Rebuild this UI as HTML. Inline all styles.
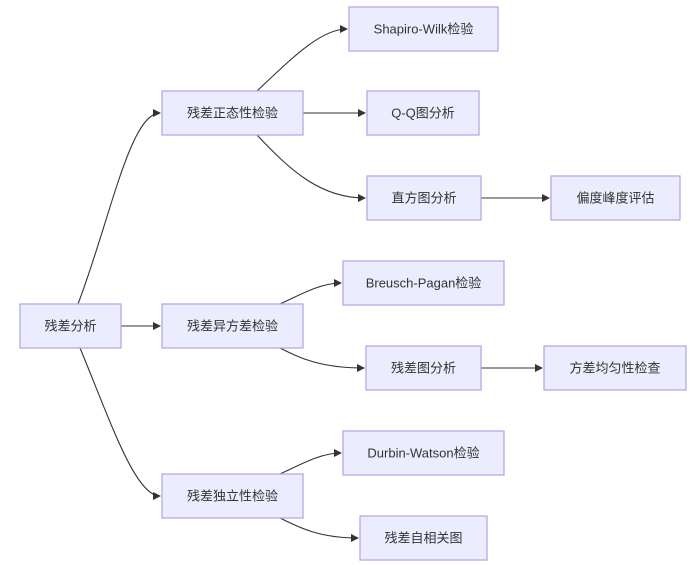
<!DOCTYPE html>
<html><head><meta charset="utf-8"><style>
html,body{margin:0;padding:0;background:#fff;}
svg{display:block;}
text{font-family:"Liberation Sans","Noto Sans CJK SC",sans-serif;font-size:13px;fill:#333;text-anchor:middle;dominant-baseline:central;}
rect{fill:#ECECFF;stroke:#b8a8e4;stroke-width:1.3;}
path{fill:none;stroke:#333;stroke-width:1.1;}
</style></head><body>
<svg width="700" height="565" viewBox="0 0 700 565">
<defs><marker id="a" markerWidth="8" markerHeight="8" refX="7" refY="4" orient="auto" markerUnits="userSpaceOnUse"><path d="M0,0 L8,4 L0,8 z" style="fill:#333;stroke:none"/></marker></defs>
<g marker-end="url(#a)">
<path d="M78,304 C110,220 130,113 160,113"/>
<path d="M121,326 L160,326"/>
<path d="M80,348 C110,420 135,496 160,496"/>
<path d="M257,91 C290,60 320,29 347,29"/>
<path d="M303,113 L365,113"/>
<path d="M257,135 C290,170 320,198 365,198"/>
<path d="M481,198 L549,198"/>
<path d="M280,304 C300,295 320,283 341,283"/>
<path d="M280,348 C300,358 320,368 364,368"/>
<path d="M481,368 L542,368"/>
<path d="M280,474 C300,465 320,453 341,453"/>
<path d="M280,518 C300,528 320,538 358,538"/>
</g>
<rect x="20" y="304" width="101" height="44"/><text x="70.5" y="326">残差分析</text>
<rect x="162" y="91" width="141" height="44"/><text x="232.5" y="113">残差正态性检验</text>
<rect x="162" y="304" width="141" height="44"/><text x="232.5" y="326">残差异方差检验</text>
<rect x="162" y="474" width="141" height="44"/><text x="232.5" y="496">残差独立性检验</text>
<rect x="349" y="7" width="149" height="44"/><text x="423.5" y="29">Shapiro-Wilk检验</text>
<rect x="367" y="91" width="112" height="44"/><text x="423" y="113">Q-Q图分析</text>
<rect x="367" y="176" width="114" height="44"/><text x="424" y="198">直方图分析</text>
<rect x="551" y="176" width="129" height="44"/><text x="615.5" y="198">偏度峰度评估</text>
<rect x="343" y="261" width="161" height="44"/><text x="423.5" y="283">Breusch-Pagan检验</text>
<rect x="366" y="346" width="115" height="44"/><text x="423.5" y="368">残差图分析</text>
<rect x="544" y="346" width="142" height="44"/><text x="615" y="368">方差均匀性检查</text>
<rect x="343" y="431" width="161" height="44"/><text x="423.5" y="453">Durbin-Watson检验</text>
<rect x="360" y="516" width="127" height="44"/><text x="423.5" y="538">残差自相关图</text>
</svg>
</body></html>
